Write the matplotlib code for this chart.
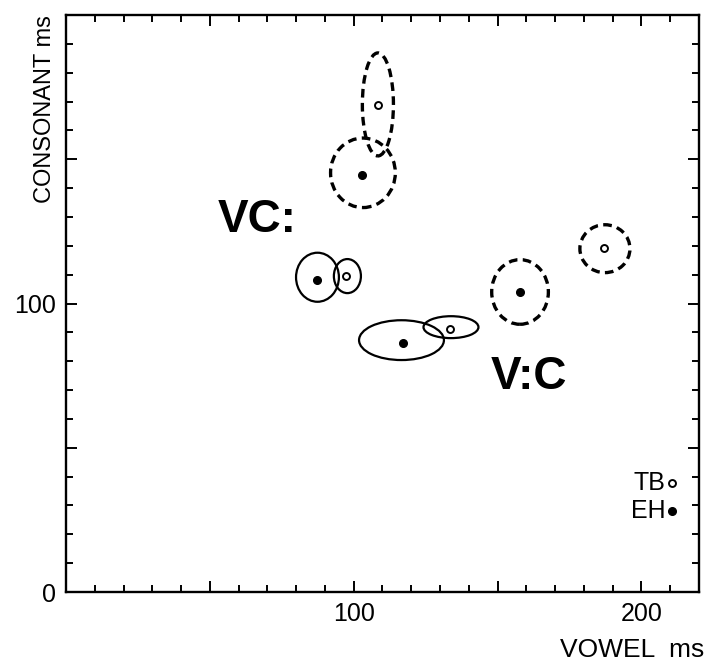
import numpy as np
import matplotlib
matplotlib.use("Agg")
import matplotlib.pyplot as plt
from matplotlib.patches import Ellipse
from matplotlib.ticker import MultipleLocator, FuncFormatter

plt.rcParams['font.family'] = ['Liberation Sans', 'DejaVu Sans']

# mean durations (ms) and ellipse sizes
# order: VC solid EH, VC solid TB, V:C solid EH, V:C solid TB,
#        VC dashed EH, VC dashed TB, V:C dashed EH, V:C dashed TB
speaker = ['EH', 'TB', 'EH', 'TB', 'EH', 'TB', 'EH', 'TB']
vowel_ms = [87.3, 97.4, 117.0, 133.3, 103.0, 108.5, 157.9, 187.0]
cons_ms = [108.3, 109.7, 86.4, 91.3, 144.5, 168.8, 103.9, 119.2]
ell_x = [87.4, 97.8, 116.6, 133.8, 103.2, 108.4, 157.8, 187.3]
ell_y = [109.1, 109.5, 87.3, 91.8, 145.3, 169.0, 104.0, 119.0]
ell_w = [14.9, 9.4, 29.5, 19.1, 22.5, 10.8, 19.7, 17.4]
ell_h = [17.0, 11.8, 13.8, 7.6, 24.1, 35.7, 22.4, 16.6]
ell_dashed = [False, False, False, False, True, True, True, True]

fig = plt.figure(figsize=(7.06, 6.65), dpi=100)
ax = fig.add_axes([66 / 706, 1 - 592 / 665, 633 / 706, 577 / 665])
ax.set_xlim(0, 220)
ax.set_ylim(0, 200)

for i in range(len(ell_x)):
    ls = (0, (2.6, 1.6)) if ell_dashed[i] else '-'
    lw = 2.4 if ell_dashed[i] else 1.6
    e = Ellipse((ell_x[i], ell_y[i]), ell_w[i], ell_h[i], fill=False,
                edgecolor='black', linewidth=lw, linestyle=ls)
    ax.add_patch(e)

for i in range(len(vowel_ms)):
    if speaker[i] == 'EH':
        ax.plot(vowel_ms[i], cons_ms[i], 'o', color='black', markersize=5.5)
    else:
        ax.plot(vowel_ms[i], cons_ms[i], 'o', markerfacecolor='white',
                markeredgecolor='black', markersize=5, markeredgewidth=1.4)

ax.text(52.8, 124.7, 'VC:', fontsize=33, fontweight='bold', ha='left', va='baseline')
ax.text(147.6, 70.3, 'V:C', fontsize=33, fontweight='bold', ha='left', va='baseline')

# key
ax.text(208.3, 37.8, 'TB', fontsize=18, ha='right', va='center')
ax.text(208.3, 28.1, 'EH', fontsize=18, ha='right', va='center')
ax.plot(210.5, 37.8, 'o', markerfacecolor='white', markeredgecolor='black',
        markersize=5, markeredgewidth=1.4)
ax.plot(210.5, 28.1, 'o', color='black', markersize=5.5)

# ticks on all four sides, pointing in
for a in (ax.xaxis, ax.yaxis):
    a.set_major_locator(MultipleLocator(50))
    a.set_minor_locator(MultipleLocator(10))
ax.tick_params(which='both', direction='in', top=True, right=True, width=1.4)
ax.tick_params(which='major', length=8, labelsize=18, pad=7)
ax.tick_params(which='minor', length=5)
ax.xaxis.set_major_formatter(FuncFormatter(lambda v, p: '%d' % v if v in (100, 200) else ''))
ax.yaxis.set_major_formatter(FuncFormatter(lambda v, p: '%d' % v if v in (0, 100) else ''))
for s in ax.spines.values():
    s.set_linewidth(1.7)

ax.text(1.008, -0.1, 'VOWEL  ms', fontsize=19, ha='right', va='center', transform=ax.transAxes)
ax.text(-0.033, 1.0, 'CONSONANT ms', fontsize=17, rotation=90, ha='center', va='top',
        transform=ax.transAxes)

fig.savefig('out.png', dpi=100)
